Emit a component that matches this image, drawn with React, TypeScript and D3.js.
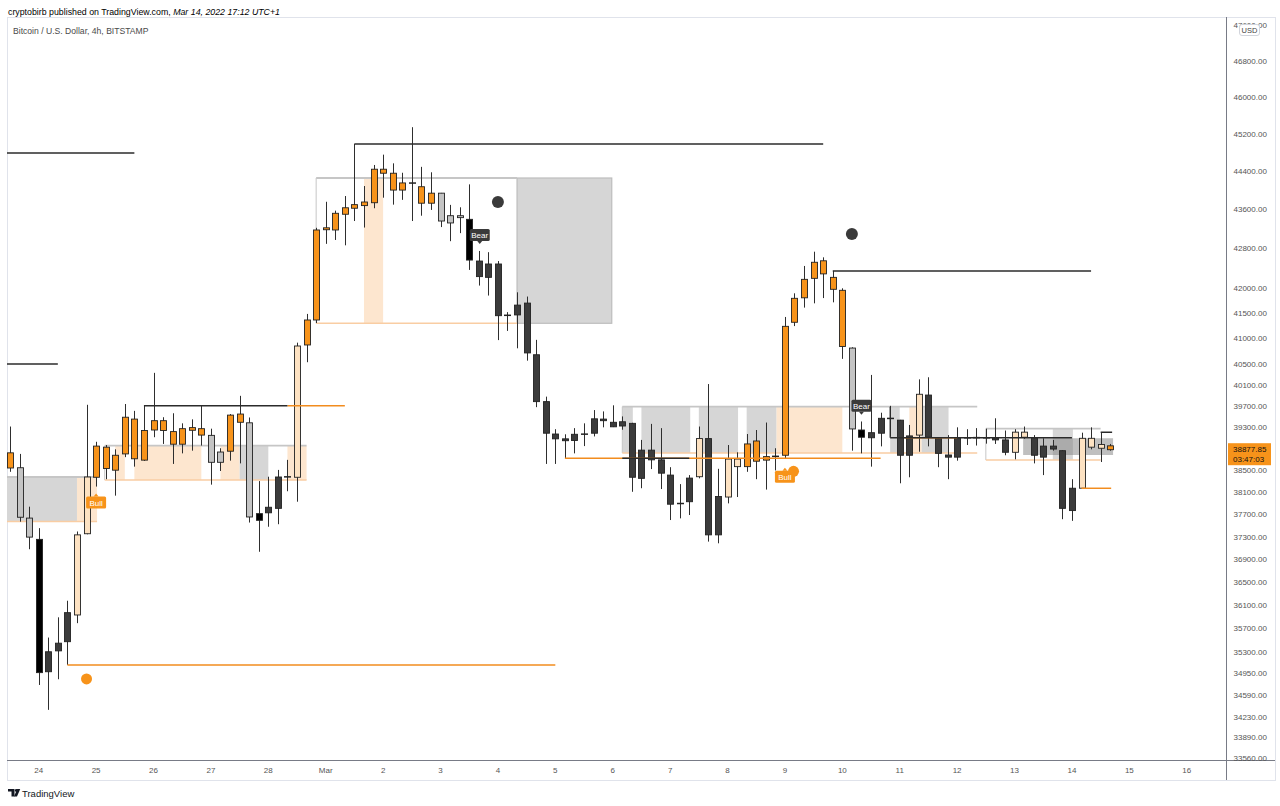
import React from "react";
import * as d3 from "d3";

// ---- 4h candles, BTC/USD Bitstamp, from 2022-02-23 12:00 UTC ----
const OPEN = [
  38820, 38545, 37630, 37250, 34970, 35320, 35475, 35930, 37350, 38370,
  38925, 38500, 38800, 39450, 38685, 39245, 39420, 39215, 38980, 39290,
  39270, 39145, 38645, 38850, 39545, 39380, 37710, 37725, 37805, 38375,
  38370, 40870, 41360, 43180, 43175, 43500, 43625, 43680, 43740, 44445,
  44360, 44005, 44155, 44075, 43730, 43940, 43320, 43470, 43395, 42540,
  42210, 42480, 41445, 41460, 41695, 40680, 39780, 39170, 39080, 39050,
  39165, 39185, 39450, 39390, 39320, 39370, 38350, 38870, 38690, 38410,
  37880, 37925, 38380, 39085, 37330, 38010, 38705, 38565, 39040, 38685,
  38750, 38775, 41315, 41800, 42190, 42545, 42210, 41950, 40810, 39245,
  39100, 39185, 39465, 39430, 38775, 39150, 39905, 39090, 38780, 38740,
  39100, 39100, 39100, 39100, 39060, 38830, 39205, 39105, 38740, 38945,
  38860, 37765, 38170, 39090, 38975, 38950,
];
const HIGH = [
  39310, 38800, 37835, 37450, 35545, 35890, 36175, 37390, 39720, 39025,
  38965, 38885, 39735, 39605, 39700, 40330, 39485, 39560, 39370, 39445,
  39700, 39270, 38905, 39545, 39890, 39480, 38300, 38380, 38505, 38690,
  40915, 41480, 43220, 43760, 43575, 43880, 44985, 44090, 44535, 44755,
  44570, 44370, 45345, 44495, 44380, 43945, 43695, 43645, 44125, 42745,
  42720, 42540, 41515, 41910, 41825, 40970, 39875, 39260, 39165, 39280,
  39370, 39620, 39595, 39710, 39500, 39380, 39060, 39360, 39280, 38555,
  38245, 38410, 39310, 40115, 38525, 38965, 38830, 39170, 39245, 39385,
  38905, 41420, 41890, 42440, 42730, 42615, 42340, 41990, 40825, 39405,
  40290, 39570, 39700, 39435, 39340, 40205, 40245, 39095, 39150, 39295,
  39260, 39280, 39270, 39465, 39235, 39260, 39310, 39150, 39090, 39060,
  38865, 38335, 39195, 39295, 39205, 38985,
];
const LOW = [
  38470, 37565, 37075, 34750, 34340, 34845, 35085, 35790, 37340, 38200,
  38335, 38035, 38740, 38565, 38670, 39110, 38985, 38615, 38810, 38860,
  38955, 38235, 38485, 38675, 38625, 37550, 37030, 37475, 37520, 38115,
  37925, 40535, 41300, 42890, 42970, 42860, 43360, 43225, 43625, 43845,
  43700, 43800, 43360, 43470, 43590, 43235, 42945, 43110, 42360, 42045,
  41845, 40965, 41145, 40805, 40565, 39675, 38615, 38615, 38720, 38810,
  38945, 39125, 39295, 39300, 39250, 38105, 38170, 38520, 38155, 37595,
  37625, 37685, 38350, 37210, 37180, 37895, 38010, 38470, 38335, 38145,
  38495, 38720, 41240, 41605, 41690, 41795, 41710, 40600, 38860, 38810,
  38565, 38940, 39120, 38260, 38370, 38840, 38940, 38555, 38335, 38675,
  38965, 38955, 38990, 38985, 38775, 38700, 39080, 38625, 38410, 38860,
  37610, 37580, 38165, 38885, 38650, 38860,
];
const CLOSE = [
  38540, 37645, 37290, 34955, 35305, 35450, 35970, 37330, 38375, 38945,
  38530, 38775, 39485, 38710, 39235, 39420, 39235, 38980, 39270, 39240,
  39150, 38645, 38835, 39525, 39390, 37650, 37590, 37825, 38375, 38380,
  40850, 41360, 43175, 43220, 43520, 43635, 43700, 43755, 44445, 44360,
  44005, 44155, 44150, 43730, 43940, 43360, 43470, 43430, 42560, 42225,
  42480, 41445, 41460, 41655, 40715, 39780, 39185, 39080, 39045, 39165,
  39170, 39455, 39420, 39305, 39400, 38370, 38870, 38690, 38445, 37880,
  37905, 38355, 39085, 37330, 38020, 38705, 38565, 38985, 38665, 38750,
  38760, 41235, 41790, 42170, 42515, 42280, 41970, 40840, 39265, 39110,
  39195, 39465, 39460, 38775, 39135, 39920, 39110, 38810, 38740, 39100,
  39100, 39105, 39100, 39060, 38830, 39205, 39110, 38775, 38945, 38890,
  37805, 38170, 39090, 38925, 38905, 38877.85,
];
// bar colouring state from the indicator: o=bull, p=bull-weak, g=bear-weak, d=bear, k=bear-strong
const STATE = [
  "o", "g", "g", "k", "d", "d", "d", "p", "p", "o",
  "o", "o", "o", "o", "o", "o", "o", "o", "o", "o",
  "o", "g", "g", "o", "o", "g", "k", "d", "d", "d",
  "p", "o", "o", "o", "o", "o", "o", "o", "o", "o",
  "o", "o", "o", "o", "o", "g", "g", "g", "k", "d",
  "d", "d", "d", "d", "d", "d", "d", "d", "d", "d",
  "d", "d", "d", "d", "d", "d", "d", "d", "d", "d",
  "d", "d", "p", "d", "d", "p", "p", "o", "o", "o",
  "o", "o", "o", "o", "o", "o", "o", "o", "g", "k",
  "d", "d", "d", "d", "d", "p", "d", "d", "d", "d",
  "d", "d", "d", "d", "d", "p", "p", "d", "d", "d",
  "d", "d", "p", "p", "p", "o",
];

const START_UTC = Date.UTC(2022, 1, 23, 12, 0);
const BAR_MS = 4 * 3600 * 1000;

const PRICE_TICKS = [
  47600, 46800, 46000, 45200, 44400, 43600, 42800, 42000, 41500, 41000,
  40500, 40100, 39700, 39300, 38900, 38500, 38100, 37700, 37300, 36900,
  36500, 36100, 35700, 35300, 34950, 34590, 34230, 33890, 33560,
];
const DAY_DATES = [
  "2022-02-24", "2022-02-25", "2022-02-26", "2022-02-27", "2022-02-28",
  "2022-03-01", "2022-03-02", "2022-03-03", "2022-03-04", "2022-03-05",
  "2022-03-06", "2022-03-07", "2022-03-08", "2022-03-09", "2022-03-10",
  "2022-03-11", "2022-03-12", "2022-03-13", "2022-03-14", "2022-03-15",
  "2022-03-16",
];
const DAY_LABELS = [
  "24", "25", "26", "27", "28", "Mar", "2", "3", "4", "5", "6", "7", "8",
  "9", "10", "11", "12", "13", "14", "15", "16",
];

// indicator zones: [fromBar, toBar, top, bottom]
const ZONES = [
  [-0.5, 9.1, 38375, 37570],
  [9.9, 31.0, 38953, 38320],
  [32, 53, 44259, 41295],
  [64, 101.1, 39685, 38816],
  [102, 114, 39270, 38687],
];
const ZONE_MITIGATED = [
  [-0.5, 7.0, 38375, 37570],
  [24, 27, 38953, 38320],
  [64, 65.1, 39685, 38816],
  [66, 71.1, 39685, 38816],
  [72, 76.1, 39685, 38816],
  [77, 80.1, 39685, 38816],
  [92, 93, 39685, 38816],
  [95.3, 98.1, 39685, 38816],
  [109, 111.1, 39278, 38687],
];
const ZONE_CLOSED = [[53, 62.9, 44259, 41295]];
const ZONE_OVERLAP = [[105.9, 115.3, 39091, 38780]];
const ZONE_OPEN = [
  [7.0, 9.1, 38375, 37570],
  [11, 12, 38953, 38320],
  [13, 20, 38953, 38320],
  [22, 24, 38953, 38320],
  [29, 31, 38953, 38320],
  [37, 39, 44259, 41295],
  [80.1, 87, 39685, 38816],
  [94, 95.3, 39685, 38816],
];
// structure lines: [fromBar, toBar, price, anchorPrice?]
const STRUCTURE = [
  [-1, 13, 44790],
  [-1, 5, 40500],
  [14, 29, 39700],
  [36, 85, 44985],
  [64, 71, 38719],
  [92, 111, 39102, 39685],
  [86, 113, 42339],
  [114, 115.2, 39203],
];
const LIQUIDITY = [
  [29, 35, 39700],
  [6, 57, 35083],
  [58, 91, 38719],
  [93.5, 99, 39102],
  [112, 115.1, 38169],
];
const DOTS: [number, number, string][] = [
  [8, 34850, "bull"],
  [51, 43756, "bear"],
  [88, 43093, "bear"],
  [81.9, 38480, "bull"],
];
const SIGNALS: [number, number, string][] = [
  [9, 37910, "Bull"],
  [81, 38380, "Bull"],
  [49.1, 43073, "Bear"],
  [89, 39700, "Bear"],
];
const LAST_PRICE = 38877.85;
const COUNTDOWN = "03:47:03";

const FILL: Record<string, string> = {
  o: "#f7931a",
  p: "#fde2c2",
  g: "#c4c4c4",
  d: "#3b3b3b",
  k: "#000000",
};

const FONT = "'Liberation Sans', Arial, sans-serif";

export default function App() {
  const PL = 7, PR = 1226, PT = 17, PB = 760;
  const t = (i: number) => new Date(START_UTC + i * BAR_MS);
  const x = d3
    .scaleTime()
    .domain([t(0), t(115)])
    .range([10, 10 + 9.567 * 115]);
  const xi = (i: number) => x(t(i));
  const y = d3.scaleLog().domain([46800, 33560]).range([61, 758]);
  const fmt = d3.format(".2f");

  const rectOf = (z: number[]) => ({
    x: xi(z[0]),
    y: y(z[2]),
    width: xi(z[1]) - xi(z[0]),
    height: y(z[3]) - y(z[2]),
  });

  return (
    <svg
      width={1280}
      height={806}
      style={{ position: "absolute", left: 0, top: 0, background: "#fff" }}
      fontFamily={FONT}
    >
      <defs>
        <clipPath id="pane">
          <rect x={PL} y={PT} width={PR - PL} height={PB - PT} />
        </clipPath>
      </defs>
      <rect x={0} y={0} width={1280} height={806} fill="#fff" />
      <text x={8} y={15} fontSize={8.8} fill="#000">
        cryptobirb published on TradingView.com,{" "}
        <tspan fontStyle="italic">Mar 14, 2022 17:12 UTC+1</tspan>
      </text>
      <rect x={PL + 0.5} y={PT + 0.5} width={1275 - PL} height={780 - PT} fill="none" stroke="#e0e3eb" />

      <g clipPath="url(#pane)">
        {ZONE_OPEN.map((z, i) => (
          <rect key={"zo" + i} {...rectOf(z)} fill="#fde6cf" />
        ))}
        {ZONE_MITIGATED.map((z, i) => (
          <rect key={"zm" + i} {...rectOf(z)} fill="#d6d6d6" />
        ))}
        {ZONE_CLOSED.map((z, i) => (
          <rect key={"zc" + i} {...rectOf(z)} fill="#d6d6d6" stroke="#bdbdbd" strokeWidth={1.2} />
        ))}
        {ZONE_OVERLAP.map((z, i) => (
          <rect key={"zx" + i} {...rectOf(z)} fill="#808080" fillOpacity={0.5} />
        ))}
        {ZONES.map((z, i) => {
          const r = rectOf(z);
          return (
            <g key={"z" + i}>
              <line x1={r.x} x2={r.x + r.width} y1={r.y} y2={r.y} stroke="#c6c6c6" strokeWidth={1.8} />
              <line x1={r.x} x2={r.x} y1={r.y} y2={r.y + r.height} stroke="#c6c6c6" strokeWidth={1} />
              <line x1={r.x} x2={r.x + r.width} y1={r.y + r.height} y2={r.y + r.height} stroke="#f9cda3" strokeWidth={1.5} />
            </g>
          );
        })}

        {OPEN.map((o, i) => {
          const cx = Math.round(xi(i)) + 0.5;
          const yo = y(o), yc = y(CLOSE[i]);
          const top = Math.min(yo, yc), bot = Math.max(yo, yc);
          const h = bot - top;
          const s = STATE[i];
          return (
            <g key={"c" + i}>
              <line x1={cx} x2={cx} y1={y(HIGH[i])} y2={y(LOW[i])} stroke="#2e2e2e" strokeWidth={1} />
              {h < 1.5 ? (
                <line x1={cx - 3.5} x2={cx + 3.5} y1={top + h / 2} y2={top + h / 2} stroke="#222" strokeWidth={1.5} />
              ) : (
                <rect x={cx - 3} y={top} width={6} height={h} fill={FILL[s]} stroke="#222" strokeWidth={0.9} />
              )}
            </g>
          );
        })}

        {LIQUIDITY.map((l, i) => (
          <line key={"lq" + i} x1={xi(l[0])} x2={xi(l[1])} y1={y(l[2])} y2={y(l[2])} stroke="#f28c1e" strokeWidth={1.5} />
        ))}
        {STRUCTURE.map((l, i) => (
          <g key={"st" + i}>
            <line x1={xi(l[0])} x2={xi(l[1])} y1={y(l[2])} y2={y(l[2])} stroke="#2b2b2b" strokeWidth={1.5} />
            {l.length > 3 && (
              <line x1={xi(l[0])} x2={xi(l[0])} y1={y(l[3])} y2={y(l[2])} stroke="#2b2b2b" strokeWidth={1.2} />
            )}
          </g>
        ))}

        {DOTS.map((d, i) => (
          <circle key={"d" + i} cx={xi(d[0])} cy={y(d[1])} r={d[2] === "bull" ? 5.5 : 6} fill={d[2] === "bull" ? "#f7931a" : "#3a3a3a"} />
        ))}
        {SIGNALS.map((s, i) => {
          const cx = xi(s[0]);
          const cy = y(s[1]);
          const bull = s[2] === "Bull";
          const w = 20, h = 12;
          return (
            <g key={"sg" + i}>
              <rect x={cx - w / 2} y={cy - h / 2} width={w} height={h} rx={1.5} fill={bull ? "#f7931a" : "#3a3a3a"} />
              {bull ? (
                <path d={`M${cx - 2.5},${cy - h / 2} L${cx},${cy - h / 2 - 3} L${cx + 2.5},${cy - h / 2} Z`} fill="#f7931a" />
              ) : (
                <path d={`M${cx - 2.5},${cy + h / 2} L${cx},${cy + h / 2 + 3} L${cx + 2.5},${cy + h / 2} Z`} fill="#3a3a3a" />
              )}
              <text x={cx} y={cy + 3} fontSize={8} fill="#fff" textAnchor="middle">
                {s[2]}
              </text>
            </g>
          );
        })}
      </g>

      <text x={13} y={34} fontSize={8.6} fill="#4a4a4a">
        Bitcoin / U.S. Dollar, 4h, BITSTAMP
      </text>

      {/* axes */}
      <line x1={PR + 0.5} x2={PR + 0.5} y1={PT} y2={780} stroke="#787b86" />
      <line x1={PL} x2={1275} y1={PB + 0.5} y2={PB + 0.5} stroke="#787b86" />
      {PRICE_TICKS.map((p) => (
        <text key={"yt" + p} x={1233.5} y={y(p) + 3} fontSize={8} fill="#555">
          {fmt(p)}
        </text>
      ))}
      {DAY_DATES.map((d, i) => (
        <text key={"xt" + d} x={x(new Date(d + "T00:00:00Z"))} y={773} fontSize={8} fill="#555" textAnchor="middle">
          {DAY_LABELS[i]}
        </text>
      ))}

      {/* currency box */}
      <rect x={1239.5} y={24.5} width={20} height={11} rx={2.5} fill="#fff" stroke="#d1d4dc" />
      <text x={1249.5} y={33} fontSize={7.5} fill="#444" textAnchor="middle">
        USD
      </text>

      {/* last price label */}
      <rect x={1228} y={y(LAST_PRICE) - 6.5} width={43} height={22} fill="#f7931a" />
      <text x={1233} y={y(LAST_PRICE) + 2.5} fontSize={8} fill="#111">
        {fmt(LAST_PRICE)}
      </text>
      <text x={1233} y={y(LAST_PRICE) + 12} fontSize={8} fill="#111">
        {COUNTDOWN}
      </text>

      {/* logo */}
      <g fill="#131722">
        <path d="M8,789 h6.5 v7.5 h-3 v-5 h-3.5 z" />
        <circle cx={16.3} cy={790.5} r={1.4} />
        <path d="M17.2,789 h3 l-3.2,7.5 h-3 z" />
      </g>
      <text x={22} y={797} fontSize={9.5} fill="#131722">
        TradingView
      </text>
    </svg>
  );
}
